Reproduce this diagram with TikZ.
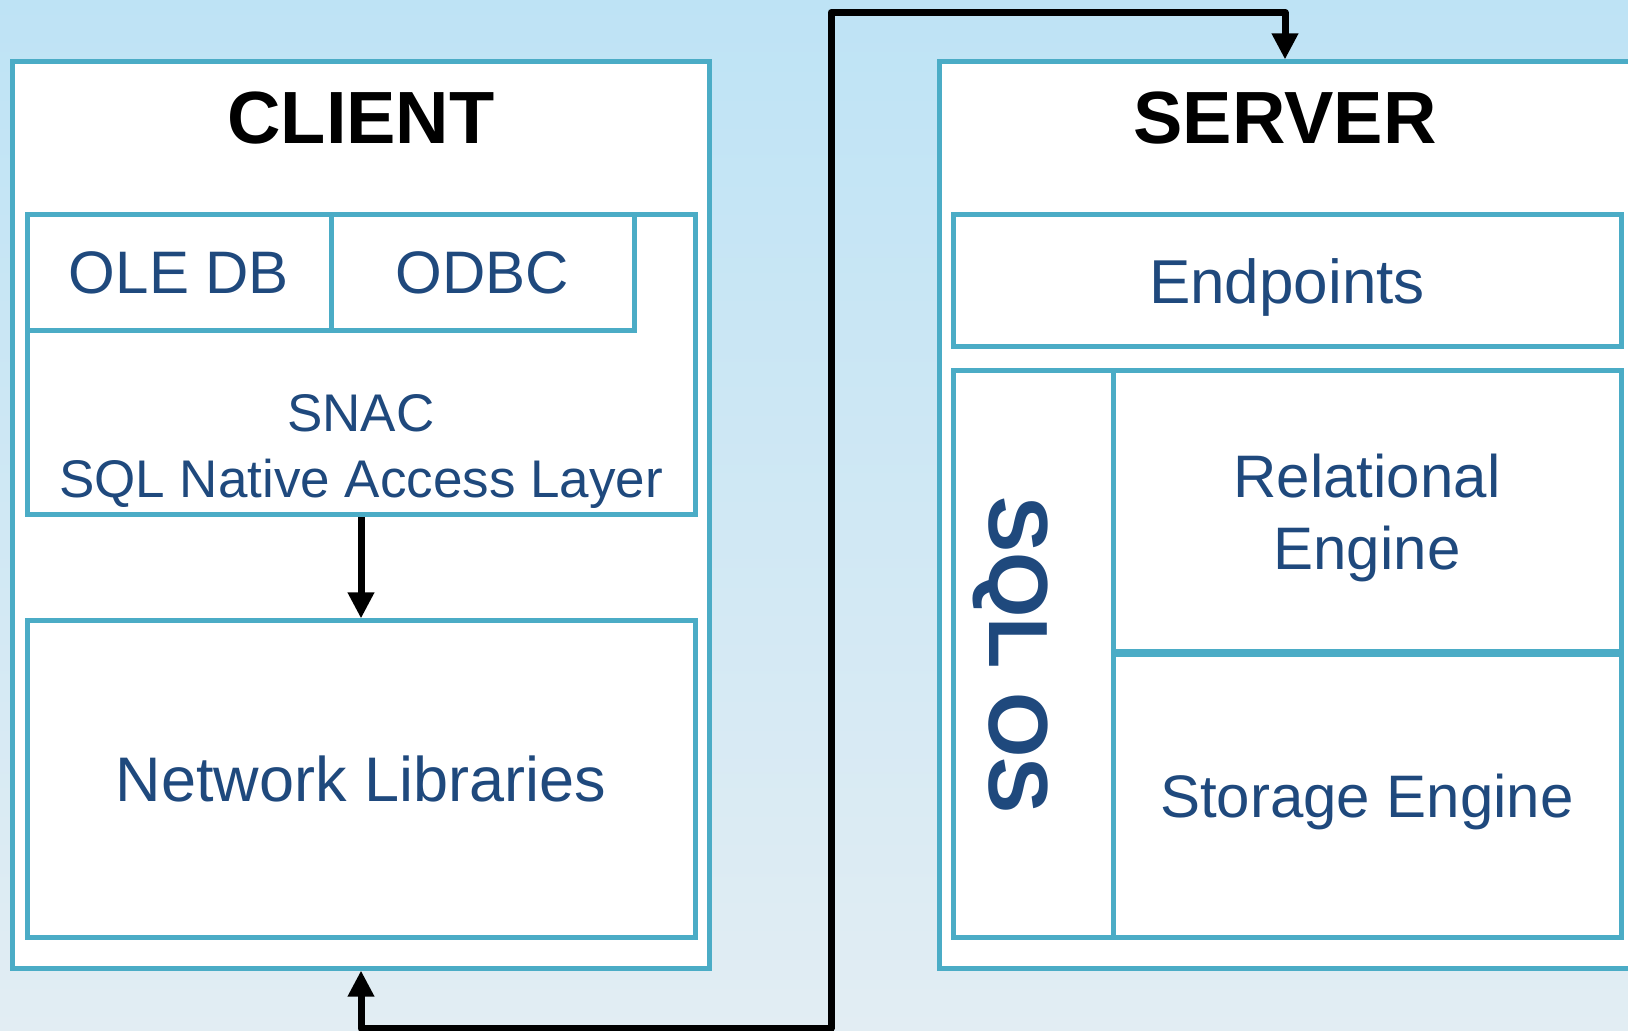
\documentclass[tikz,border=0pt]{standalone}
\usepackage{fontspec}
\setmainfont{Liberation Sans}
\usetikzlibrary{arrows.meta,positioning}
\definecolor{boxline}{HTML}{4BACC6}
\definecolor{boxtext}{HTML}{1F497D}
\definecolor{skytop}{RGB}{190,227,245}
\definecolor{skymid}{RGB}{178,226,246}
\definecolor{skybot}{RGB}{226,237,243}

\begin{document}
\begin{tikzpicture}[x=0.5pt, y=-0.5pt,
    box/.style={draw=boxline, line width=2.5pt, fill=white, inner sep=0pt, text=boxtext, text depth=0pt},
    title/.style={font=\bfseries\fontsize{37}{44}\selectfont, text=black},
    >={Triangle[length=13pt, width=12.5pt]},
    conn/.style={line width=3.5pt, line join=round, ->}]

    % Sky backdrop, also fixes the page size
    \fill[top color=skytop, middle color=skymid, bottom color=skybot] (0,0) rectangle (1628,1031);
    \useasboundingbox (0,0) rectangle (1628,1031);

    % Client side
    \node[box, minimum width=348.75pt, minimum height=453pt] (client) at (361,515) {};
    \node[title] (clienttitle) at (361,118) {CLIENT};
    \node[box, minimum width=334pt, minimum height=150pt] (snac) at (361,365) {};
    \node[box, minimum width=152pt, minimum height=58pt, font=\fontsize{30}{36}\selectfont] (oledb) at (179,273) {OLE DB};
    \node[box, minimum width=151.5pt, minimum height=58pt, font=\fontsize{30}{36}\selectfont] (odbc) at (482.5,273) {ODBC};
    \node[text=boxtext, align=center, text depth=0pt, font=\fontsize{26.5}{32.5}\selectfont] (snactext) at (361,446) {SNAC\\SQL Native Access Layer};
    \node[box, minimum width=334pt, minimum height=158pt, font=\fontsize{31.5}{38}\selectfont] (netlib) at (361,779) {Network Libraries};
    \draw[conn] (snac) -- (netlib); % SNAC down to the libraries

    % Server side (right edge runs off the page)
    \node[box, minimum width=346pt, minimum height=453pt] (server) at (1285,515) {};
    \node[title] (servertitle) at (1285,118) {SERVER};
    \node[box, minimum width=334pt, minimum height=66pt, font=\fontsize{31}{37}\selectfont] (endpoints) at (1287,281) {Endpoints};
    \node[box, minimum width=334pt, minimum height=283pt] (sqlos) at (1287,654) {};
    \node[box, minimum width=254pt, minimum height=140.5pt, align=center, font=\fontsize{30}{36}\selectfont] (relational) at (1367,511.5) {Relational\\Engine};
    \node[box, minimum width=254pt, minimum height=141pt, font=\fontsize{30}{36}\selectfont] (storage) at (1367,796) {Storage Engine};
    \node[text=boxtext, rotate=-90, font=\bfseries\fontsize{42}{50}\selectfont] (sqlostext) at (1011,655) {SQL OS};

    % Round trip between client and server
    \coordinate (lowbend) at (831,1028);
    \coordinate (highbend) at (831,12.5);
    \draw[conn, <->] (client.south) |- (lowbend) -- (highbend) -| (server.north);
\end{tikzpicture}
\end{document}
